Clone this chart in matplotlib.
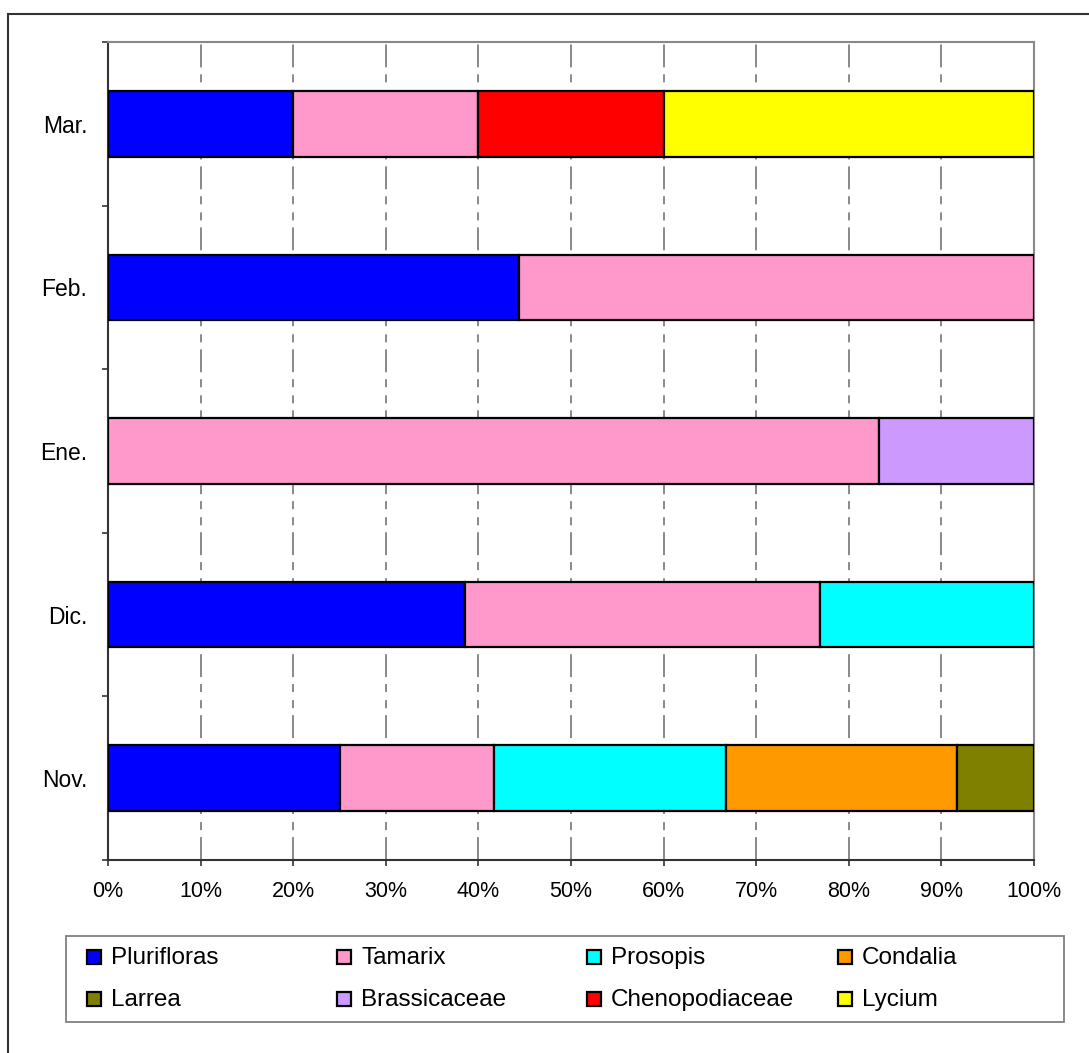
import matplotlib
matplotlib.use("Agg")
import matplotlib.pyplot as plt
from matplotlib.patches import Rectangle
import numpy as np

plt.rcParams['font.family'] = ['Liberation Sans', 'DejaVu Sans']
plt.rcParams['lines.scale_dashes'] = False

# ---------------- data ----------------
months = ["Nov.", "Dic.", "Ene.", "Feb.", "Mar."]
series_names = ["Plurifloras", "Tamarix", "Prosopis", "Condalia",
                "Larrea", "Brassicaceae", "Chenopodiaceae", "Lycium"]
plurifloras    = [25.0, 38.5, 0.0, 44.4, 20.0]
tamarix        = [16.7, 38.4, 83.3, 55.6, 20.0]
prosopis       = [25.0, 23.1, 0.0, 0.0, 0.0]
condalia       = [25.0, 0.0, 0.0, 0.0, 0.0]
larrea         = [8.3, 0.0, 0.0, 0.0, 0.0]
brassicaceae   = [0.0, 0.0, 16.7, 0.0, 0.0]
chenopodiaceae = [0.0, 0.0, 0.0, 0.0, 20.0]
lycium         = [0.0, 0.0, 0.0, 0.0, 40.0]
colors = ["#0000FF", "#FF99CC", "#00FFFF", "#FF9900",
          "#808000", "#CC99FF", "#FF0000", "#FFFF00"]
x_ticks = [0, 10, 20, 30, 40, 50, 60, 70, 80, 90, 100]
x_ticklabels = ["0%", "10%", "20%", "30%", "40%", "50%", "60%", "70%", "80%", "90%", "100%"]

series = [plurifloras, tamarix, prosopis, condalia, larrea,
          brassicaceae, chenopodiaceae, lycium]

# ---------------- figure ----------------
W, H = 1089, 1053
fig = plt.figure(figsize=(W / 100, H / 100), dpi=100)
fig.patch.set_facecolor("white")

def px(x0, y0, x1, y1):
    return [x0 / W, 1 - y1 / H, (x1 - x0) / W, (y1 - y0) / H]

ax = fig.add_axes(px(108, 42, 1034, 860))

ypos = np.arange(len(months))
left = np.zeros(len(months))
for vals, col in zip(series, colors):
    vals = np.array(vals)
    m = vals > 0
    ax.barh(ypos[m], vals[m], left=left[m], height=0.4, color=col,
            edgecolor="black", linewidth=1.6, zorder=3)
    left += vals

ax.set_xlim(0, 100)
ax.set_ylim(-0.5, len(months) - 0.5)

# grid
ax.set_xticks(x_ticks)
ax.set_xticklabels(x_ticklabels, fontsize=15.5)
ax.xaxis.grid(True, color="#808080", linewidth=1.3,
              linestyle=(0, (16.5, 5.0, 5.8, 5.8, 5.8, 5.0)), zorder=0)
ax.set_axisbelow(True)
ax.tick_params(axis="x", direction="out", length=4.3, width=1.2,
               color="#333333", pad=10.5, labelcolor="black")

ax.set_yticks(ypos)
ax.set_yticklabels(months, fontsize=16.5)
ax.set_yticks(np.arange(-0.5, len(months), 1.0), minor=True)
ax.tick_params(axis="y", which="major", length=0, pad=15, labelcolor="black")
ax.tick_params(axis="y", which="minor", direction="out", length=4.3,
               width=1.2, color="#333333")

for s in ["left", "bottom"]:
    ax.spines[s].set_color("#333333")
    ax.spines[s].set_linewidth(1.5)
for s in ["top", "right"]:
    ax.spines[s].set_color("#888888")
    ax.spines[s].set_linewidth(1.5)

# outer chart frame
fig.add_artist(Rectangle((8 / W, -0.2), 2.0, 1.2 - 14 / H,
                         transform=fig.transFigure, fill=False,
                         edgecolor="#333333", linewidth=1.5))

# legend box
lx0, ly0, lx1, ly1 = 66, 936, 1064, 1022
fig.add_artist(Rectangle((lx0 / W, 1 - ly1 / H), (lx1 - lx0) / W,
                         (ly1 - ly0) / H, transform=fig.transFigure,
                         fill=False, edgecolor="#808080", linewidth=1.3))
col_marker_x = [87, 337, 587, 838]
row_center_y = [957, 999]
for i, (name, col) in enumerate(zip(series_names, colors)):
    r, c = divmod(i, 4)
    mx = col_marker_x[c]
    cy = row_center_y[r]
    fig.add_artist(Rectangle((mx / W, 1 - (cy + 7) / H), 14 / W, 14 / H,
                             transform=fig.transFigure, facecolor=col,
                             edgecolor="black", linewidth=1.6))
    fig.text((mx + 24) / W, 1 - (cy + 7) / H, name, fontsize=17.5,
             va="baseline", ha="left", color="black")

fig.savefig("out.png", dpi=100, facecolor="white")
